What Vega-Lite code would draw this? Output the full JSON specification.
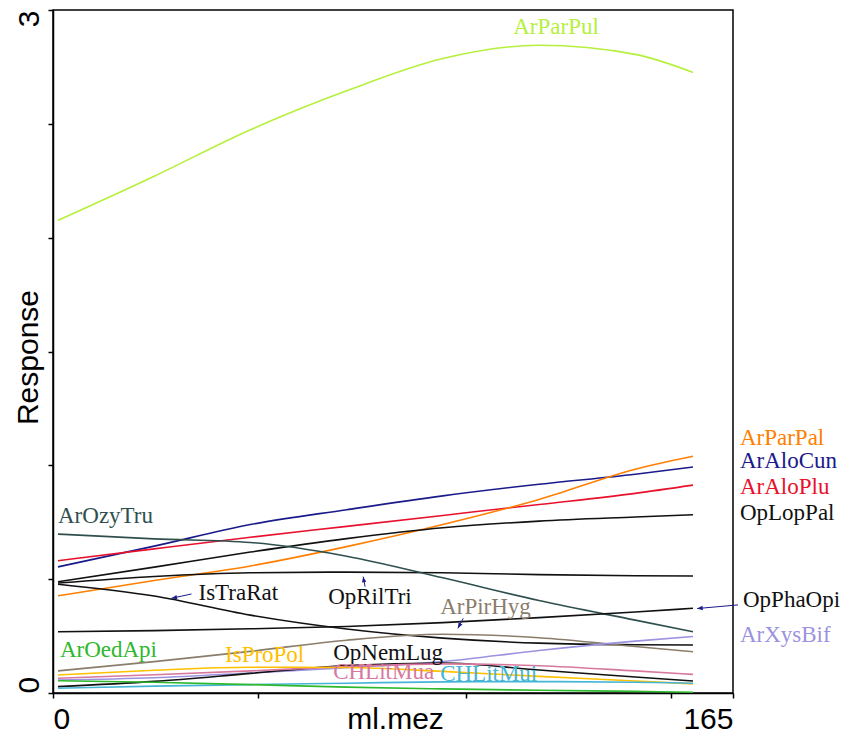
{
  "$schema": "https://vega.github.io/schema/vega-lite/v6.json",
  "width": 680,
  "height": 683,
  "autosize": {"type": "none"},
  "padding": {"left": 53, "top": 10, "right": 113, "bottom": 42},
  "background": "white",
  "config": {
    "view": {"stroke": "black", "strokeWidth": 1.5},
    "axis": {
      "domainColor": "black", "domainWidth": 1.5, "tickColor": "black", "tickWidth": 1.5,
      "grid": false, "labelFont": "Liberation Sans", "titleFont": "Liberation Sans",
      "labelFontSize": 30, "titleFontSize": 30, "titleFontWeight": "normal",
      "labelColor": "black", "titleColor": "black", "labelOverlap": false
    }
  },
  "datasets": {
    "curves": [
      {"species": "ArParPul", "x": 0, "y": 2.076}, {"species": "ArParPul", "x": 25, "y": 2.27}, {"species": "ArParPul", "x": 50, "y": 2.474}, {"species": "ArParPul", "x": 75, "y": 2.645}, {"species": "ArParPul", "x": 100, "y": 2.787}, {"species": "ArParPul", "x": 125, "y": 2.845}, {"species": "ArParPul", "x": 150, "y": 2.805}, {"species": "ArParPul", "x": 165, "y": 2.726},
      {"species": "ArAloCun", "x": 0, "y": 0.554}, {"species": "ArAloCun", "x": 25, "y": 0.645}, {"species": "ArAloCun", "x": 50, "y": 0.74}, {"species": "ArAloCun", "x": 75, "y": 0.805}, {"species": "ArAloCun", "x": 100, "y": 0.866}, {"species": "ArAloCun", "x": 125, "y": 0.917}, {"species": "ArAloCun", "x": 150, "y": 0.961}, {"species": "ArAloCun", "x": 165, "y": 0.993},
      {"species": "ArAloPlu", "x": 0, "y": 0.581}, {"species": "ArAloPlu", "x": 25, "y": 0.633}, {"species": "ArAloPlu", "x": 50, "y": 0.684}, {"species": "ArAloPlu", "x": 75, "y": 0.732}, {"species": "ArAloPlu", "x": 100, "y": 0.78}, {"species": "ArAloPlu", "x": 125, "y": 0.828}, {"species": "ArAloPlu", "x": 150, "y": 0.877}, {"species": "ArAloPlu", "x": 165, "y": 0.913},
      {"species": "ArParPal", "x": 0, "y": 0.427}, {"species": "ArParPal", "x": 25, "y": 0.494}, {"species": "ArParPal", "x": 50, "y": 0.558}, {"species": "ArParPal", "x": 75, "y": 0.643}, {"species": "ArParPal", "x": 100, "y": 0.74}, {"species": "ArParPal", "x": 125, "y": 0.85}, {"species": "ArParPal", "x": 150, "y": 0.983}, {"species": "ArParPal", "x": 165, "y": 1.04},
      {"species": "OpLopPal", "x": 0, "y": 0.489}, {"species": "OpLopPal", "x": 25, "y": 0.553}, {"species": "OpLopPal", "x": 50, "y": 0.619}, {"species": "OpLopPal", "x": 75, "y": 0.678}, {"species": "OpLopPal", "x": 100, "y": 0.726}, {"species": "OpLopPal", "x": 125, "y": 0.755}, {"species": "OpLopPal", "x": 150, "y": 0.773}, {"species": "OpLopPal", "x": 165, "y": 0.783},
      {"species": "OpRilTri", "x": 0, "y": 0.483}, {"species": "OpRilTri", "x": 25, "y": 0.512}, {"species": "OpRilTri", "x": 50, "y": 0.528}, {"species": "OpRilTri", "x": 75, "y": 0.531}, {"species": "OpRilTri", "x": 100, "y": 0.528}, {"species": "OpRilTri", "x": 125, "y": 0.52}, {"species": "OpRilTri", "x": 150, "y": 0.515}, {"species": "OpRilTri", "x": 165, "y": 0.514},
      {"species": "IsTraRat", "x": 0, "y": 0.478}, {"species": "IsTraRat", "x": 25, "y": 0.426}, {"species": "IsTraRat", "x": 50, "y": 0.342}, {"species": "IsTraRat", "x": 75, "y": 0.281}, {"species": "IsTraRat", "x": 100, "y": 0.241}, {"species": "IsTraRat", "x": 125, "y": 0.219}, {"species": "IsTraRat", "x": 150, "y": 0.212}, {"species": "IsTraRat", "x": 165, "y": 0.211},
      {"species": "ArOzyTru", "x": 0, "y": 0.698}, {"species": "ArOzyTru", "x": 25, "y": 0.677}, {"species": "ArOzyTru", "x": 50, "y": 0.661}, {"species": "ArOzyTru", "x": 75, "y": 0.601}, {"species": "ArOzyTru", "x": 100, "y": 0.506}, {"species": "ArOzyTru", "x": 125, "y": 0.406}, {"species": "ArOzyTru", "x": 150, "y": 0.32}, {"species": "ArOzyTru", "x": 165, "y": 0.269},
      {"species": "OpPhaOpi", "x": 0, "y": 0.269}, {"species": "OpPhaOpi", "x": 25, "y": 0.274}, {"species": "OpPhaOpi", "x": 50, "y": 0.282}, {"species": "OpPhaOpi", "x": 75, "y": 0.292}, {"species": "OpPhaOpi", "x": 100, "y": 0.309}, {"species": "OpPhaOpi", "x": 125, "y": 0.331}, {"species": "OpPhaOpi", "x": 150, "y": 0.356}, {"species": "OpPhaOpi", "x": 165, "y": 0.372},
      {"species": "ArPirHyg", "x": 0, "y": 0.097}, {"species": "ArPirHyg", "x": 25, "y": 0.138}, {"species": "ArPirHyg", "x": 50, "y": 0.183}, {"species": "ArPirHyg", "x": 75, "y": 0.232}, {"species": "ArPirHyg", "x": 100, "y": 0.258}, {"species": "ArPirHyg", "x": 125, "y": 0.243}, {"species": "ArPirHyg", "x": 150, "y": 0.204}, {"species": "ArPirHyg", "x": 165, "y": 0.181},
      {"species": "ArXysBif", "x": 0, "y": 0.057}, {"species": "ArXysBif", "x": 25, "y": 0.067}, {"species": "ArXysBif", "x": 50, "y": 0.088}, {"species": "ArXysBif", "x": 75, "y": 0.111}, {"species": "ArXysBif", "x": 100, "y": 0.138}, {"species": "ArXysBif", "x": 125, "y": 0.187}, {"species": "ArXysBif", "x": 150, "y": 0.228}, {"species": "ArXysBif", "x": 165, "y": 0.248},
      {"species": "OpNemLug", "x": 0, "y": 0.028}, {"species": "OpNemLug", "x": 25, "y": 0.051}, {"species": "OpNemLug", "x": 50, "y": 0.086}, {"species": "OpNemLug", "x": 75, "y": 0.121}, {"species": "OpNemLug", "x": 100, "y": 0.132}, {"species": "OpNemLug", "x": 125, "y": 0.101}, {"species": "OpNemLug", "x": 150, "y": 0.07}, {"species": "OpNemLug", "x": 165, "y": 0.053},
      {"species": "CHLitMua", "x": 0, "y": 0.065}, {"species": "CHLitMua", "x": 25, "y": 0.08}, {"species": "CHLitMua", "x": 50, "y": 0.097}, {"species": "CHLitMua", "x": 75, "y": 0.116}, {"species": "CHLitMua", "x": 100, "y": 0.128}, {"species": "CHLitMua", "x": 125, "y": 0.12}, {"species": "CHLitMua", "x": 150, "y": 0.097}, {"species": "CHLitMua", "x": 165, "y": 0.082},
      {"species": "IsProPol", "x": 0, "y": 0.079}, {"species": "IsProPol", "x": 25, "y": 0.1}, {"species": "IsProPol", "x": 50, "y": 0.113}, {"species": "IsProPol", "x": 75, "y": 0.112}, {"species": "IsProPol", "x": 100, "y": 0.095}, {"species": "IsProPol", "x": 125, "y": 0.073}, {"species": "IsProPol", "x": 150, "y": 0.053}, {"species": "IsProPol", "x": 165, "y": 0.04},
      {"species": "CHLitMui", "x": 0, "y": 0.021}, {"species": "CHLitMui", "x": 25, "y": 0.03}, {"species": "CHLitMui", "x": 50, "y": 0.037}, {"species": "CHLitMui", "x": 75, "y": 0.043}, {"species": "CHLitMui", "x": 100, "y": 0.049}, {"species": "CHLitMui", "x": 125, "y": 0.05}, {"species": "CHLitMui", "x": 150, "y": 0.047}, {"species": "CHLitMui", "x": 165, "y": 0.043},
      {"species": "ArOedApi", "x": 0, "y": 0.054}, {"species": "ArOedApi", "x": 25, "y": 0.047}, {"species": "ArOedApi", "x": 50, "y": 0.037}, {"species": "ArOedApi", "x": 75, "y": 0.026}, {"species": "ArOedApi", "x": 100, "y": 0.018}, {"species": "ArOedApi", "x": 125, "y": 0.012}, {"species": "ArOedApi", "x": 150, "y": 0.007}, {"species": "ArOedApi", "x": 165, "y": 0.003}
    ],
    "labels": [
      {"species": "ArParPul", "x": 118.3, "y": 2.893},
      {"species": "ArParPal", "x": 177.2, "y": 1.089},
      {"species": "ArAloCun", "x": 177.2, "y": 0.988},
      {"species": "ArAloPlu", "x": 177.2, "y": 0.874},
      {"species": "OpLopPal", "x": 177.2, "y": 0.759},
      {"species": "OpPhaOpi", "x": 178.0, "y": 0.378},
      {"species": "ArXysBif", "x": 177.2, "y": 0.224},
      {"species": "ArOzyTru", "x": 0, "y": 0.746},
      {"species": "IsTraRat", "x": 36.5, "y": 0.408},
      {"species": "OpRilTri", "x": 70.2, "y": 0.393},
      {"species": "ArPirHyg", "x": 99.3, "y": 0.347},
      {"species": "ArOedApi", "x": 0.5, "y": 0.158},
      {"species": "IsProPol", "x": 43.4, "y": 0.136},
      {"species": "OpNemLug", "x": 71.5, "y": 0.145},
      {"species": "CHLitMua", "x": 71.5, "y": 0.061},
      {"species": "CHLitMui", "x": 99.3, "y": 0.053}
    ],
    "arrows": [
      {"species": "IsTraRat", "x": 34.7, "y": 0.435, "x2": 29.5, "y2": 0.416},
      {"species": "OpRilTri", "x": 79.8, "y": 0.467, "x2": 79.3, "y2": 0.511},
      {"species": "ArPirHyg", "x": 105.3, "y": 0.328, "x2": 103.9, "y2": 0.284},
      {"species": "OpPhaOpi", "x": 176.7, "y": 0.387, "x2": 166.1, "y2": 0.371}
    ]
  },
  "layer": [
    {
      "data": {"name": "curves"},
      "mark": {"type": "line", "interpolate": "monotone", "strokeWidth": 1.6},
      "encoding": {
        "x": {
          "field": "x", "type": "quantitative",
          "scale": {"domain": [-1.3, 175.4], "nice": false, "zero": false},
          "axis": {
            "values": [-1.3, 52, 106, 159.3, 175.4],
            "labelExpr": "datum.value < 0 ? '0' : (datum.value > 170 ? '165' : '')",
            "labelFlush": true, "labelBaseline": "alphabetic", "labelPadding": 30, "tickSize": 5,
            "title": "ml.mez", "titleX": 342, "titleY": 35, "titleBaseline": "alphabetic", "titleAlign": "center"
          }
        },
        "y": {
          "field": "y", "type": "quantitative",
          "scale": {"domain": [0, 3], "nice": false},
          "axis": {
            "values": [0, 0.5, 1, 1.5, 2, 2.5, 3],
            "labelExpr": "datum.value == 0 ? '0' : (datum.value == 3 ? '3' : '')",
            "labelAngle": 270,
            "labelAlign": {"condition": {"test": "datum.value == 0", "value": "left"}, "value": "right"},
            "labelBaseline": "alphabetic", "labelPadding": 10, "tickSize": 5, "labelFlush": false,
            "title": "Response", "titleX": -16, "titleY": 347, "titleAngle": 270,
            "titleBaseline": "alphabetic", "titleAlign": "center"
          }
        },
        "color": {
          "field": "species", "type": "nominal", "legend": null,
          "scale": {
            "domain": ["ArParPul", "ArAloCun", "ArAloPlu", "ArParPal", "OpLopPal", "OpRilTri", "IsTraRat", "ArOzyTru", "OpPhaOpi", "ArPirHyg", "ArXysBif", "OpNemLug", "CHLitMua", "IsProPol", "CHLitMui", "ArOedApi"],
            "range": ["#b5f03c", "#1a1a8a", "#e8112d", "#ff7f00", "#111111", "#111111", "#111111", "#2f4f4f", "#111111", "#8b7d6b", "#9b92e0", "#111111", "#d8789e", "#ffc000", "#45b5d6", "#2db82d"]
          }
        },
        "detail": {"field": "species"}
      }
    },
    {
      "data": {"name": "labels"},
      "mark": {"type": "text", "align": "left", "baseline": "alphabetic", "font": "Liberation Serif", "fontSize": 23},
      "encoding": {
        "x": {"field": "x", "type": "quantitative"},
        "y": {"field": "y", "type": "quantitative"},
        "text": {"field": "species"},
        "color": {"field": "species", "type": "nominal", "legend": null}
      }
    },
    {
      "data": {"name": "arrows"},
      "mark": {"type": "rule", "color": "#1a1a8a", "strokeWidth": 1},
      "encoding": {
        "x": {"field": "x", "type": "quantitative"},
        "y": {"field": "y", "type": "quantitative"},
        "x2": {"field": "x2"},
        "y2": {"field": "y2"}
      }
    },
    {
      "data": {"name": "arrows"},
      "mark": {"type": "point", "shape": "M0,0L0.4,1L-0.4,1Z", "filled": true, "color": "#1a1a8a", "opacity": 1, "size": 120},
      "encoding": {
        "x": {"field": "x2", "type": "quantitative"},
        "y": {"field": "y2", "type": "quantitative"},
        "angle": {
          "field": "species", "type": "nominal", "legend": null,
          "scale": {"type": "ordinal", "domain": ["IsTraRat", "OpRilTri", "ArPirHyg", "OpPhaOpi"], "range": [258, 350, 209, 264]}
        }
      }
    }
  ]
}
